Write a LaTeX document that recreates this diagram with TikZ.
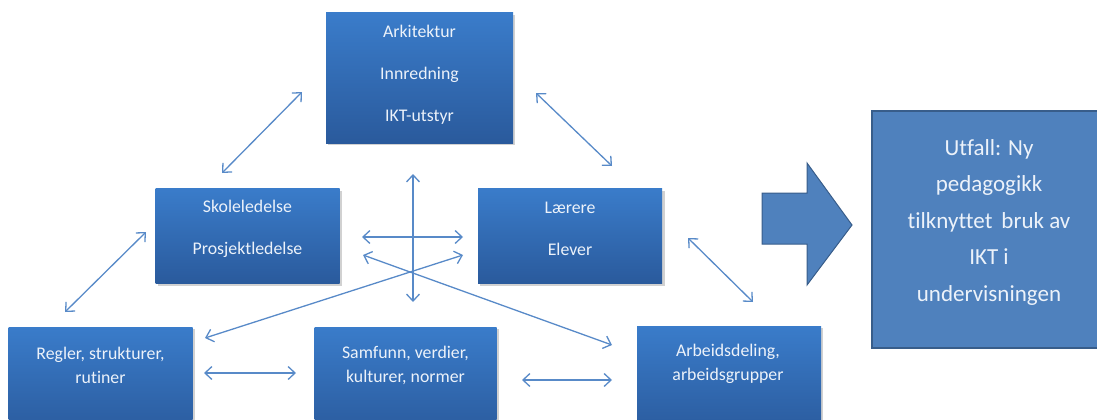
\documentclass[tikz,border=0pt]{standalone}
\usepackage{fontspec}
\setmainfont[Ligatures=NoCommon]{Carlito}
\usetikzlibrary{arrows.meta}
\definecolor{boxtop}{RGB}{58,124,202}
\definecolor{boxbot}{RGB}{42,90,156}
\definecolor{flat}{RGB}{79,129,189}
\definecolor{flatdark}{RGB}{56,93,138}
\definecolor{conn}{RGB}{88,138,200}
\definecolor{txtc}{RGB}{236,242,250}
\tikzset{
  gbox/.style={rectangle, inner sep=0pt, top color=boxtop, bottom color=boxbot, draw=none},
  shad/.style={fill=black!18, draw=none},
  btxt/.style={text=txtc, align=center, inner sep=0pt, font=\fontsize{17.8}{42}\selectfont},
  btxtb/.style={text=txtc, align=center, inner sep=0pt, font=\fontsize{17.8}{24}\selectfont},
  bigtxt/.style={text=txtc, align=center, inner sep=0pt, font=\fontsize{23}{36.5}\selectfont},
  link/.style={draw=conn, line width=1.3pt, {Straight Barb[length=7pt,width=13pt,line width=1.3pt]}-{Straight Barb[length=7pt,width=13pt,line width=1.3pt]}},
}
\begin{document}
\begin{tikzpicture}[x=1pt,y=-1pt]
\useasboundingbox (0,0) rectangle (1097,420);
\clip (0,0) rectangle (1097,420);
% shadows
\fill[shad] (328,15) rectangle (515,145);
\fill[shad] (158,191) rectangle (342,286);
\fill[shad] (480,191) rectangle (665,286);
\fill[shad] (11,329) rectangle (195,430);
\fill[shad] (317,329) rectangle (499,430);
\fill[shad] (639,328) rectangle (823,430);
% boxes
\node[gbox, minimum width=187pt, minimum height=130pt] (top) at (419.5,78) {};
\node[gbox, minimum width=184pt, minimum height=95pt] (skole) at (247.5,236) {};
\node[gbox, minimum width=184pt, minimum height=95pt] (laerer) at (570,236) {};
\node[gbox, minimum width=184pt, minimum height=110pt] (regler) at (100.5,382) {};
\node[gbox, minimum width=182pt, minimum height=110pt] (samf) at (405.5,382) {};
\node[gbox, minimum width=184pt, minimum height=110pt] (arb) at (729,381) {};
% texts
\node[btxt] (toptxt) at (419.5,75) {Arkitektur\\Innredning\\IKT-utstyr};
\node[btxt] (skoletxt) at (247.5,229) {Skoleledelse\\Prosjektledelse};
\node[btxt] (laerertxt) at (570,229) {Lærere\\Elever};
\node[btxtb] (reglertxt) at (100.5,365) {Regler, strukturer,\\rutiner};
\node[btxtb] (samftxt) at (405.5,365) {Samfunn, verdier,\\kulturer, normer};
\node[btxtb] (arbtxt) at (728,364) {Arbeidsdeling,\\arbeidsgrupper};
% big arrow
\filldraw[fill=flat, draw=flatdark, line width=1pt] (762,193) -- (807,193) -- (807,163) -- (852,225) -- (807,285) -- (807,244) -- (762,244) -- cycle;
% outcome box
\node[rectangle, fill=flat, draw=flatdark, line width=1.5pt, minimum width=240pt, minimum height=237pt, inner sep=0pt] (utfall) at (992,229.5) {};
\node[bigtxt] (utfalltxt) at (989,222) {Utfall: Ny\\pedagogikk\\tilknyttet\, bruk av\\IKT i\\undervisningen};
% connector endpoints
\coordinate (a1) at (302,92); \coordinate (a2) at (222,173);
\coordinate (b1) at (146,232); \coordinate (b2) at (65,312);
\coordinate (c1) at (536,93); \coordinate (c2) at (612,166);
\coordinate (d1) at (688,238); \coordinate (d2) at (753,302);
\coordinate (v1) at (413,174); \coordinate (v2) at (413,302);
\coordinate (h1) at (362,237); \coordinate (h2) at (463,237);
\coordinate (x1) at (363,255); \coordinate (x2) at (612,345);
\coordinate (y1) at (463,255); \coordinate (y2) at (205,338);
\coordinate (r1) at (204,373); \coordinate (r2) at (296,373);
\coordinate (s1) at (522,380); \coordinate (s2) at (612,380);
\draw[link] (a1) -- (a2);
\draw[link] (b1) -- (b2);
\draw[link] (c1) -- (c2);
\draw[link] (d1) -- (d2);
\draw[link] (v1) -- (v2);
\draw[link] (h1) -- (h2);
\draw[link] (x1) -- (x2);
\draw[link] (y1) -- (y2);
\draw[link] (r1) -- (r2);
\draw[link] (s1) -- (s2);
\end{tikzpicture}
\end{document}
